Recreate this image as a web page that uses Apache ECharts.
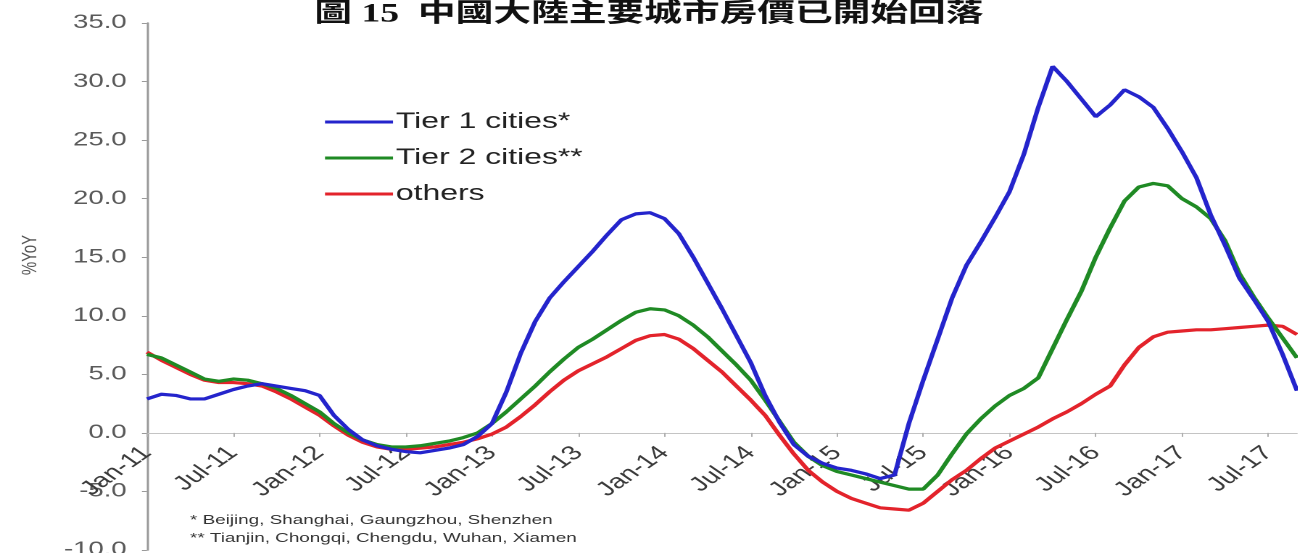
<!DOCTYPE html>
<html>
<head>
<meta charset="utf-8">
<script src="https://cdn.jsdelivr.net/npm/echarts@6/dist/echarts.min.js"></script>
<style>
  html, body { margin: 0; padding: 0; background: #fff; overflow: hidden; }
  #stage { width: 1298px; height: 553px; overflow: hidden; position: relative; }
  #chart { position: absolute; left: 0; top: 0; height: 553px; transform-origin: 0 0; }
</style>
</head>
<body>
<div id="stage"><div id="chart"></div></div>
<script>
// Monthly categories, Jan 2011 to Sep 2017
const months = [
  'Jan-11','Feb-11','Mar-11','Apr-11','May-11','Jun-11','Jul-11','Aug-11','Sep-11','Oct-11','Nov-11','Dec-11',
  'Jan-12','Feb-12','Mar-12','Apr-12','May-12','Jun-12','Jul-12','Aug-12','Sep-12','Oct-12','Nov-12','Dec-12',
  'Jan-13','Feb-13','Mar-13','Apr-13','May-13','Jun-13','Jul-13','Aug-13','Sep-13','Oct-13','Nov-13','Dec-13',
  'Jan-14','Feb-14','Mar-14','Apr-14','May-14','Jun-14','Jul-14','Aug-14','Sep-14','Oct-14','Nov-14','Dec-14',
  'Jan-15','Feb-15','Mar-15','Apr-15','May-15','Jun-15','Jul-15','Aug-15','Sep-15','Oct-15','Nov-15','Dec-15',
  'Jan-16','Feb-16','Mar-16','Apr-16','May-16','Jun-16','Jul-16','Aug-16','Sep-16','Oct-16','Nov-16','Dec-16',
  'Jan-17','Feb-17','Mar-17','Apr-17','May-17','Jun-17','Jul-17','Aug-17','Sep-17'
];

// House price change, % year on year
const tier1 = [
  2.9, 3.3, 3.2, 2.9, 2.9, 3.3, 3.7, 4.0, 4.2, 4.0, 3.8, 3.6,
  3.2, 1.5, 0.3, -0.6, -1.1, -1.4, -1.6, -1.7, -1.5, -1.3, -1.0, -0.3,
  0.8, 3.5, 6.8, 9.5, 11.5, 12.9, 14.2, 15.5, 16.9, 18.2, 18.7, 18.8,
  18.3, 17.0, 15.0, 12.8, 10.6, 8.3, 6.0, 3.2, 0.9, -1.0, -2.0, -2.6,
  -3.0, -3.2, -3.5, -3.9, -3.6, 0.8, 4.5, 8.0, 11.5, 14.3, 16.3, 18.4,
  20.6, 23.8, 27.8, 31.3, 30.0, 28.5, 27.0, 28.0, 29.3, 28.7, 27.8, 26.0,
  24.0, 21.8, 18.6, 16.0, 13.2, 11.4, 9.5, 6.7, 3.6
];
const tier2 = [
  6.7, 6.4, 5.8, 5.2, 4.6, 4.4, 4.6, 4.5, 4.2, 3.8, 3.2, 2.5,
  1.8, 0.8, 0.0, -0.6, -1.0, -1.2, -1.2, -1.1, -0.9, -0.7, -0.4, 0.0,
  0.8, 1.8, 2.9, 4.0, 5.2, 6.3, 7.3, 8.0, 8.8, 9.6, 10.3, 10.6,
  10.5, 10.0, 9.2, 8.2, 7.0, 5.8, 4.5, 2.8, 1.0, -0.8, -2.0, -2.8,
  -3.3, -3.6, -3.9, -4.2, -4.5, -4.8, -4.8, -3.6, -1.8, -0.1, 1.2, 2.3,
  3.2, 3.8, 4.7, 7.2, 9.7, 12.1, 15.0, 17.5, 19.8, 21.0, 21.3, 21.1,
  20.0, 19.3, 18.3, 16.4, 13.6, 11.6, 9.8, 8.1, 6.4
];
const others = [
  6.9, 6.2, 5.6, 5.0, 4.5, 4.3, 4.3, 4.2, 4.0, 3.5, 2.9, 2.2,
  1.5, 0.6, -0.2, -0.8, -1.2, -1.4, -1.4, -1.3, -1.2, -1.0, -0.8, -0.5,
  -0.1, 0.5, 1.4, 2.4, 3.5, 4.5, 5.3, 5.9, 6.5, 7.2, 7.9, 8.3,
  8.4, 8.0, 7.2, 6.2, 5.2, 4.0, 2.8, 1.5, -0.2, -1.8, -3.2, -4.2,
  -5.0, -5.6, -6.0, -6.4, -6.5, -6.6, -6.0, -5.0, -4.0, -3.2, -2.2, -1.3,
  -0.7, -0.1, 0.5, 1.2, 1.8, 2.5, 3.3, 4.0, 5.8, 7.3, 8.2, 8.6,
  8.7, 8.8, 8.8, 8.9, 9.0, 9.1, 9.2, 9.1, 8.4
];

const seriesNames = ['Tier 1 cities*', 'Tier 2 cities**', 'others'];
const seriesColors = ['#2424cc', '#1f8a24', '#e3232b'];
const yTicks = { min: -10, max: 35, step: 5 };
const yAxisTitle = '%YoY';
const footnotes = [
  '* Beijing, Shanghai, Gaungzhou, Shenzhen',
  '** Tianjin, Chongqi, Chengdu, Wuhan, Xiamen'
];
const titleText = '圖 15  中國大陸主要城市房價已開始回落';

// The drawing is laid out narrow and widened horizontally as a whole
const SX = 1.45;
const W = 1298 / SX;
const hx = v => v / SX;   // page x -> layout x

const el = document.getElementById('chart');
el.style.width = W + 'px';
el.style.transform = 'scaleX(' + SX + ')';

const chart = echarts.init(el, null, { renderer: 'canvas', devicePixelRatio: 2 });

const sans = 'Liberation Sans, Arial, sans-serif';
const gridTop = 23;
const gridHeight = 527;
// distance from the bottom of the plot (-10) up to the zero line
const zeroLift = gridHeight * (0 - yTicks.min) / (yTicks.max - yTicks.min);

chart.setOption({
  animation: false,
  backgroundColor: '#ffffff',
  title: {
    text: titleText,
    left: 'center',
    top: -3,
    textStyle: {
      fontFamily: 'Liberation Serif, Noto Sans CJK TC, serif',
      fontWeight: 'bold',
      fontSize: 26,
      color: '#111'
    }
  },
  legend: {
    orient: 'vertical',
    left: hx(325),
    top: 111,
    padding: 0,
    icon: 'rect',
    itemWidth: hx(68),
    itemHeight: 3,
    itemGap: 14,
    textStyle: { fontFamily: sans, fontSize: 22, color: '#222', padding: [0, 0, 0, -3] },
    data: seriesNames
  },
  grid: {
    left: hx(147),
    width: hx(1297 - 147),
    top: gridTop,
    height: gridHeight,
    containLabel: false,
    outerBoundsMode: 'none'
  },
  xAxis: {
    type: 'category',
    data: months,
    boundaryGap: false,
    offset: -zeroLift,
    axisLine: { onZero: false, lineStyle: { color: '#c4c4c4', width: 1 } },
    axisTick: { show: true, interval: 5, length: 4, lineStyle: { color: '#b0b0b0' } },
    axisLabel: {
      interval: 5,
      rotate: 45,
      margin: 17,
      fontFamily: sans,
      fontSize: 20,
      color: '#3a3a3a'
    },
    splitLine: { show: false }
  },
  yAxis: {
    type: 'value',
    min: yTicks.min,
    max: yTicks.max,
    interval: yTicks.step,
    axisLine: { show: true, lineStyle: { color: '#9a9a9a', width: 1.5 } },
    axisTick: { show: true, inside: false, length: 3.5, lineStyle: { color: '#9a9a9a' } },
    axisLabel: {
      margin: 14,
      fontFamily: sans,
      fontSize: 19,
      color: '#5a5a5a',
      formatter: v => v.toFixed(1)
    },
    splitLine: { show: false }
  },
  graphic: [
    {
      type: 'text',
      x: hx(30),
      y: 255,
      rotation: Math.PI / 2,
      style: {
        text: yAxisTitle, fontFamily: sans, fontSize: 15, fill: '#555',
        align: 'center', verticalAlign: 'middle'
      }
    }
  ].concat(footnotes.map((t, i) => ({
    type: 'text',
    left: hx(190),
    top: 514 + i * 18,
    style: { text: t, fontFamily: sans, fontSize: 13, fill: '#333' }
  }))),
  series: [tier1, tier2, others].map((d, i) => ({
    name: seriesNames[i],
    type: 'line',
    data: d,
    showSymbol: false,
    smooth: false,
    lineStyle: { color: seriesColors[i], width: 3.2 },
    itemStyle: { color: seriesColors[i] },
    z: 3 - i
  }))
});
</script>
</body>
</html>
